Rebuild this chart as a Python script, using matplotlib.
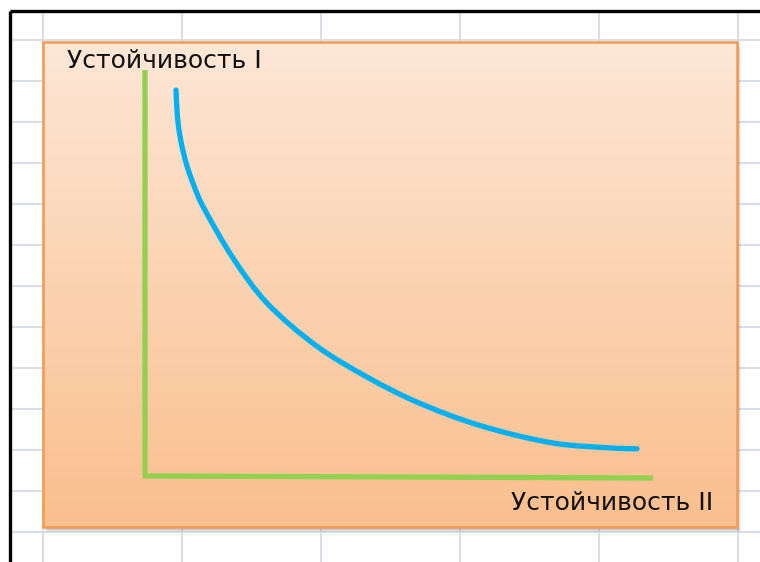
import numpy as np
import matplotlib
matplotlib.use("Agg")
import matplotlib.pyplot as plt
from matplotlib.patches import Rectangle, PathPatch
from matplotlib.path import Path

# ---- data (arbitrary units, origin at the corner of the green axes) ----
curve_x = [31, 31.7, 33.3, 36.7, 41.7, 48.3, 56.7, 88, 122, 172, 222, 272, 335, 408, 470, 492]
curve_y = [386, 371, 351, 331, 311, 292, 272, 218, 172.9, 129.7, 99, 73.9, 50.5, 33, 27.8, 27.2]
axis_x = [0, 0, 508]
axis_y = [406, 0, -2]
label_y = "Устойчивость I"
label_x = "Устойчивость II"

W, H = 760, 562
fig = plt.figure(figsize=(W / 100, H / 100), dpi=100)

# background (spreadsheet look) in pixel coordinates
bg = fig.add_axes([0, 0, 1, 1])
bg.set_xlim(0, W)
bg.set_ylim(H, 0)
bg.axis("off")
bg.add_patch(Rectangle((0, 0), W, H, color="white", zorder=0))
grid_c = "#D4DAE6"
for gx in np.arange(43, W, 139):
    bg.plot([gx, gx], [11, H], color=grid_c, lw=1.3, zorder=1)
for gy in np.arange(40, H, 41):
    bg.plot([10, W], [gy, gy], color=grid_c, lw=1.3, zorder=1)
bg.plot([10, W], [11, 11], color="black", lw=2.4, zorder=2, solid_capstyle="butt")
bg.plot([10, 10], [11, H], color="black", lw=2.4, zorder=2, solid_capstyle="butt")

# shadow
for i, a in enumerate([0.10, 0.12, 0.16]):
    off = 5 - i
    bg.add_patch(Rectangle((43 + off - 1, 42 + off), 694, 485, facecolor="#6a6a7a",
                           edgecolor="none", alpha=a, zorder=3))

# gradient chart area
top = np.array([253, 231, 214]) / 255
bot = np.array([250, 191, 141]) / 255
t = np.linspace(0, 1, 256)[:, None, None]
grad = top * (1 - t) + bot * t
grad = np.repeat(grad, 2, axis=1)
bg.imshow(grad, extent=(43, 737, 527, 42), aspect="auto", zorder=4, interpolation="bilinear")
bg.add_patch(Rectangle((43, 42), 694, 485, facecolor="none", edgecolor="#F59A52", lw=1.8, zorder=5))

bg.text(67, 68, label_y, fontsize=18, family="DejaVu Sans", color="#111111",
        ha="left", va="baseline", zorder=7)
bg.text(713, 510, label_x, fontsize=18, family="DejaVu Sans", color="#111111",
        ha="right", va="baseline", zorder=7)

# chart axes in data units
ax = fig.add_axes([145 / W, (H - 476) / H, 508 / W, 406 / H])
ax.set_xlim(0, 508)
ax.set_ylim(0, 406)
ax.axis("off")
ax.patch.set_alpha(0)
ax.plot(axis_x, axis_y, color="#92D050", lw=3.8, solid_joinstyle="miter",
        solid_capstyle="butt", clip_on=False, zorder=6)

# smoothed line: chord-length Catmull-Rom rendered as cubic Bezier segments
P = np.column_stack([curve_x, curve_y]).astype(float)
n = len(P)
d = np.r_[0, np.cumsum(np.hypot(*np.diff(P, axis=0).T))]
tang = np.zeros_like(P)
for i in range(n):
    a, b = max(i - 1, 0), min(i + 1, n - 1)
    tang[i] = (P[b] - P[a]) / (d[b] - d[a])
verts = [tuple(P[0])]
codes = [Path.MOVETO]
for i in range(n - 1):
    h = d[i + 1] - d[i]
    verts += [tuple(P[i] + tang[i] * h / 3), tuple(P[i + 1] - tang[i + 1] * h / 3), tuple(P[i + 1])]
    codes += [Path.CURVE4] * 3
patch = PathPatch(Path(verts, codes), facecolor="none", edgecolor="#00B0F0", lw=3.8,
                  capstyle="round", joinstyle="round", clip_on=False, zorder=6)
ax.add_patch(patch)

fig.savefig("out.png", dpi=100)
